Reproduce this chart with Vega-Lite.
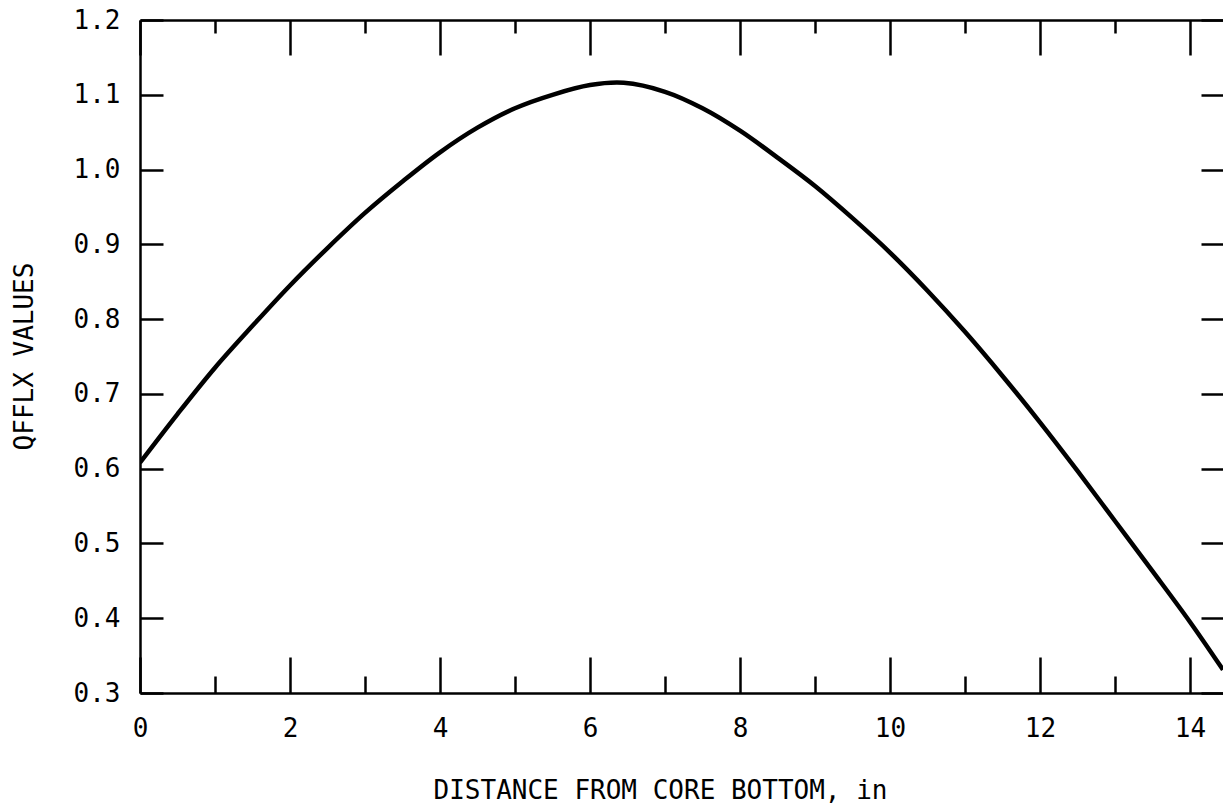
{
  "$schema": "https://vega.github.io/schema/vega-lite/v6.json",
  "width": 1083,
  "height": 673,
  "autosize": {"type": "none"},
  "padding": {"left": 140, "top": 20, "right": 0, "bottom": 113},
  "background": "white",
  "config": {
    "view": {"stroke": null},
    "axis": {
      "grid": false,
      "domainColor": "black",
      "tickColor": "black",
      "labelColor": "black",
      "titleColor": "black",
      "labelFont": "DejaVu Sans Mono",
      "titleFont": "DejaVu Sans Mono",
      "labelFontSize": 26,
      "titleFontSize": 26,
      "titleFontWeight": "normal",
      "domainWidth": 2.5,
      "tickWidth": 2.5,
      "labelOverlap": false,
      "labelFlush": false
    }
  },
  "data": {
    "values": [
      {"distance": 0.0, "qfflx": 0.608},
      {"distance": 0.5, "qfflx": 0.673},
      {"distance": 1.0, "qfflx": 0.735},
      {"distance": 1.5, "qfflx": 0.791},
      {"distance": 2.0, "qfflx": 0.845},
      {"distance": 2.5, "qfflx": 0.895},
      {"distance": 3.0, "qfflx": 0.942},
      {"distance": 3.5, "qfflx": 0.984},
      {"distance": 4.0, "qfflx": 1.023},
      {"distance": 4.5, "qfflx": 1.056},
      {"distance": 5.0, "qfflx": 1.082},
      {"distance": 5.5, "qfflx": 1.100},
      {"distance": 6.0, "qfflx": 1.113},
      {"distance": 6.45, "qfflx": 1.116},
      {"distance": 7.0, "qfflx": 1.104},
      {"distance": 7.5, "qfflx": 1.082},
      {"distance": 8.0, "qfflx": 1.052},
      {"distance": 8.5, "qfflx": 1.016},
      {"distance": 9.0, "qfflx": 0.978},
      {"distance": 9.5, "qfflx": 0.935},
      {"distance": 10.0, "qfflx": 0.889},
      {"distance": 10.5, "qfflx": 0.838},
      {"distance": 11.0, "qfflx": 0.783},
      {"distance": 11.5, "qfflx": 0.724},
      {"distance": 12.0, "qfflx": 0.662},
      {"distance": 12.5, "qfflx": 0.597},
      {"distance": 13.0, "qfflx": 0.530},
      {"distance": 13.5, "qfflx": 0.463},
      {"distance": 14.0, "qfflx": 0.395},
      {"distance": 14.44, "qfflx": 0.331}
    ]
  },
  "layer": [
    {
      "mark": {"type": "line", "color": "black", "strokeWidth": 4.5, "interpolate": "catmull-rom", "clip": true},
      "encoding": {
        "x": {
          "field": "distance", "type": "quantitative",
          "scale": {"domain": [0, 14.44], "nice": false, "zero": false},
          "axis": {
            "orient": "bottom",
            "values": [0, 2, 4, 6, 8, 10, 12, 14],
            "tickSize": -36,
            "labelPadding": 58,
            "labelBaseline": "top",
            "title": "DISTANCE FROM CORE BOTTOM, in",
            "titleX": 520,
            "titleY": 105,
            "titleAlign": "center",
            "titleBaseline": "alphabetic"
          }
        },
        "y": {
          "field": "qfflx", "type": "quantitative",
          "scale": {"domain": [0.3, 1.2], "nice": false, "zero": false},
          "axis": {
            "orient": "left",
            "values": [0.3, 0.4, 0.5, 0.6, 0.7, 0.8, 0.9, 1.0, 1.1, 1.2],
            "format": ".1f",
            "tickSize": -23,
            "labelPadding": 43,
            "title": "QFFLX VALUES",
            "titleX": -108,
            "titleY": 336,
            "titleAlign": "center",
            "titleBaseline": "alphabetic"
          }
        }
      }
    },
    {
      "mark": {"type": "line", "strokeOpacity": 0},
      "encoding": {
        "x": {
          "field": "distance", "type": "quantitative",
          "axis": {"orient": "top", "values": [0, 2, 4, 6, 8, 10, 12, 14], "tickSize": -35, "labels": false, "title": null}
        },
        "y": {
          "field": "qfflx", "type": "quantitative",
          "axis": {"orient": "right", "values": [0.3, 0.4, 0.5, 0.6, 0.7, 0.8, 0.9, 1.0, 1.1, 1.2], "tickSize": -22, "labels": false, "domain": false, "title": null}
        }
      }
    },
    {
      "mark": {"type": "line", "strokeOpacity": 0},
      "encoding": {
        "x": {
          "field": "distance", "type": "quantitative",
          "axis": {"orient": "bottom", "values": [1, 3, 5, 7, 9, 11, 13], "tickSize": -17, "labels": false, "domain": false, "title": null}
        },
        "y": {"field": "qfflx", "type": "quantitative", "axis": null}
      }
    },
    {
      "mark": {"type": "line", "strokeOpacity": 0},
      "encoding": {
        "x": {
          "field": "distance", "type": "quantitative",
          "axis": {"orient": "top", "values": [1, 3, 5, 7, 9, 11, 13], "tickSize": -13, "labels": false, "domain": false, "title": null}
        },
        "y": {"field": "qfflx", "type": "quantitative", "axis": null}
      }
    }
  ],
  "resolve": {"axis": {"x": "independent", "y": "independent"}}
}
